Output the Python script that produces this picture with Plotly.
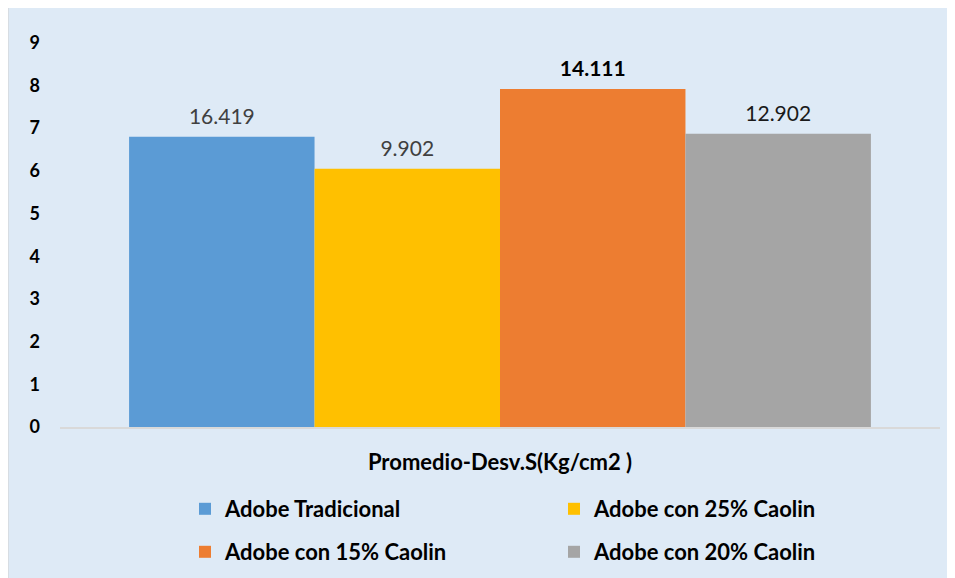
import plotly.graph_objects as go

category = ["Promedio-Desv.S(Kg/cm2 )"]
series_names = ["Adobe Tradicional", "Adobe con 25% Caolin", "Adobe con 15% Caolin", "Adobe con 20% Caolin"]
bar_heights = [6.80, 6.05, 7.92, 6.87]
bar_labels = ["16.419", "9.902", "14.111", "12.902"]
colors = ["#5B9BD5", "#FFC000", "#ED7D31", "#A5A5A5"]
label_colors = ["#404040", "#404040", "#000000", "#1A1A1A"]
label_weights = ["normal", "normal", "bold", "normal"]
legend_ids = ["legend", "legend2", "legend3", "legend4"]
y_ticks = list(range(0, 10))

FONT = "Lato"
BG = "#DEEAF6"
fig = go.Figure()
for name, h, lab, c, lc, lw, lg in zip(series_names, bar_heights, bar_labels, colors,
                                       label_colors, label_weights, legend_ids):
    fig.add_trace(go.Bar(
        x=category, y=[h], name=name, marker_color=c, marker_line_width=0,
        text=["<span style='font-size:21px'>" + lab + "</span><br>&nbsp;"],
        textposition="outside", cliponaxis=False,
        textfont=dict(family=FONT, size=7, color=lc, weight=lw),
        legend=lg,
    ))

def leg(xp, yp):
    return dict(
        x=xp, y=yp, orientation="h", xanchor="left", yanchor="middle",
        font=dict(family=FONT, size=22, color="#000000", weight="bold"),
        bgcolor="rgba(0,0,0,0)", itemclick=False, itemdoubleclick=False,
    )

col1, col2 = (177 - 52) / 880, (546 - 52) / 880
row1, row2 = (419 - 501) / 397, (419 - 544) / 397

fig.update_layout(
    width=955, height=578,
    margin=dict(l=52, r=23, t=22, b=159, autoexpand=False),
    paper_bgcolor=BG,
    plot_bgcolor=BG,
    barmode="group", bargap=0.157, bargroupgap=0,
    showlegend=True,
    legend=leg(col1, row1),
    legend2=leg(col2, row1),
    legend3=leg(col1, row2),
    legend4=leg(col2, row2),
    font=dict(family=FONT),
    uniformtext=dict(mode=False),
    shapes=[dict(type="line", xref="paper", yref="paper",
                 x0=-52 / 880, x1=-52 / 880, y0=-159 / 397, y1=(397 + 22) / 397,
                 line=dict(color="#D0D0D0", width=1))],
)
fig.update_xaxes(
    showline=True, linecolor="#D9D9D9", linewidth=1.5, showgrid=False,
    showticklabels=False, ticks="",
    title=dict(text="Promedio-Desv.S(Kg/cm2 )", standoff=27,
               font=dict(family=FONT, size=22, color="#000000", weight="bold")),
)
fig.update_yaxes(
    range=[0, 9.3], tickvals=y_ticks, showgrid=False, zeroline=False, showline=False,
    tickfont=dict(family=FONT, size=18, color="#000000", weight="bold"),
    ticklabelstandoff=19,
)
fig.write_html("out.html")
